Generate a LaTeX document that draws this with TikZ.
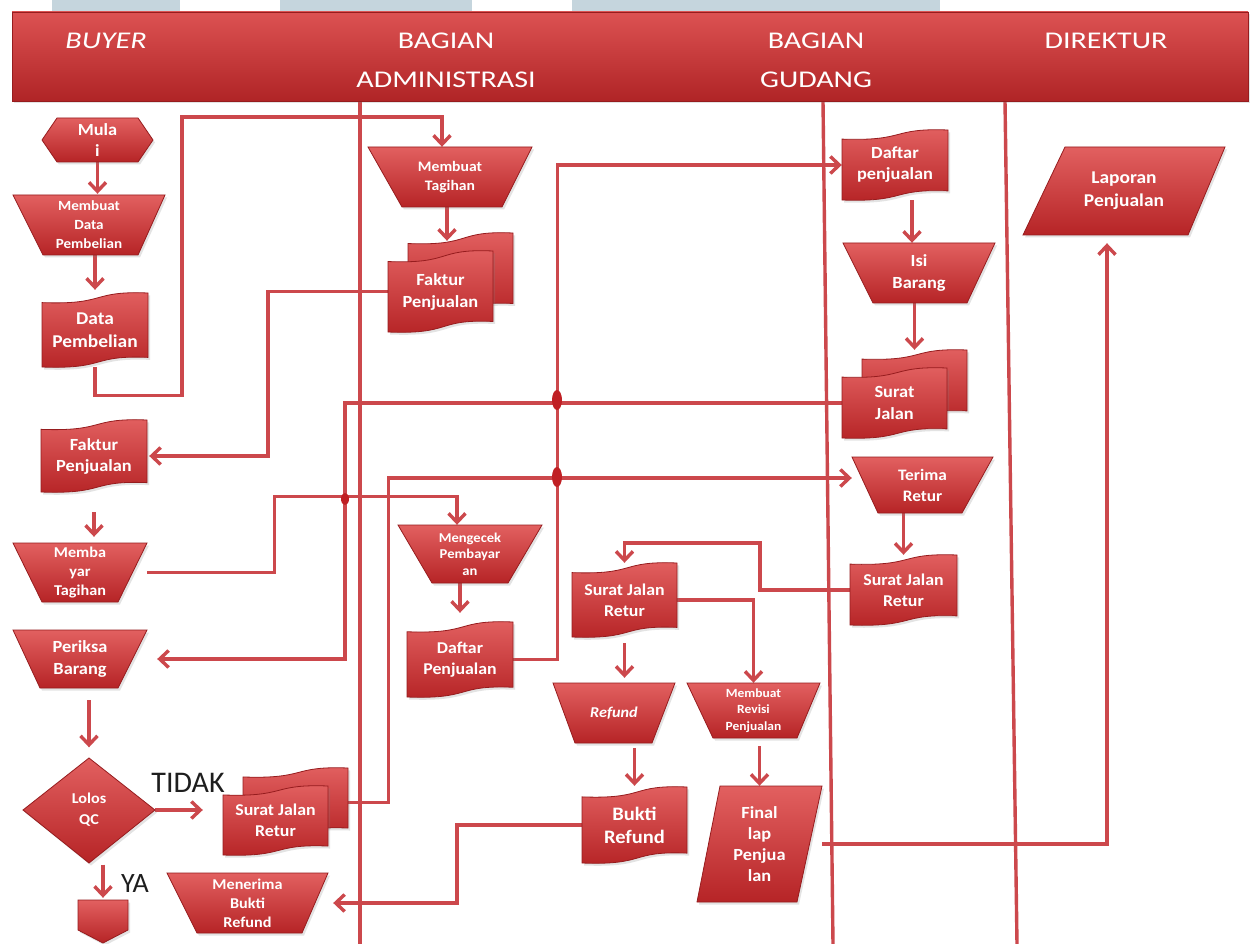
\documentclass[tikz,border=0pt]{standalone}
\usepackage{fontspec}
\newfontfamily\boxfont{Carlito}[FakeStretch=1.08]
\newfontfamily\headfont{Carlito}[FakeStretch=1.25]
\newfontfamily\plainfont{Carlito}
\usetikzlibrary{arrows.meta,shadows,calc}
\pgfdeclarelayer{bg}
\pgfdeclarelayer{back}
\pgfsetlayers{bg,back,main}

\definecolor{shTop}{RGB}{226,96,96}
\definecolor{shBot}{RGB}{182,36,38}
\definecolor{shEdge}{RGB}{150,28,30}
\definecolor{lineRed}{RGB}{204,72,76}
\definecolor{hdTop}{RGB}{220,82,82}
\definecolor{hdBot}{RGB}{176,36,38}
\definecolor{stripBlue}{RGB}{197,213,221}
\definecolor{dotRed}{RGB}{192,32,36}
\definecolor{labelInk}{RGB}{30,30,30}

\newcommand\fs[2]{\fontsize{#1}{#2}\selectfont}

% document symbol with wavy top and bottom edges
% #1 name, #2 left, #3 top, #4 right, #5 bottom, #6 font size, #7 text
\newcommand\docshape[7]{%
  \pgfmathsetmacro\dsL{#2}\pgfmathsetmacro\dsT{#3}%
  \pgfmathsetmacro\dsR{#4}\pgfmathsetmacro\dsB{#5}%
  \pgfmathsetmacro\dd{0.13*(\dsB-\dsT)}%
  \pgfmathsetmacro\mx{(\dsL+\dsR)/2}%
  \pgfmathsetmacro\ma{\dsL+0.62*(\dsR-\dsL)}%
  \pgfmathsetmacro\mb{\dsL+0.45*(\dsR-\dsL)}%
  \pgfmathsetmacro\my{(\dsT+\dsB)/2}%
  \path[shp] (\dsL,\dsT+\dd) .. controls (\ma,\dsT+1.25*\dd) and (\mb,\dsT-0.25*\dd) .. (\dsR,\dsT)
     -- (\dsR,\dsB-\dd) .. controls (\mb,\dsB-1.25*\dd) and (\ma,\dsB+0.25*\dd) .. (\dsL,\dsB) -- cycle;
  \node[txt, minimum width={(\dsR-\dsL)*1pt}, minimum height={(\dsB-\dsT)*1pt},
        font={\boxfont\bfseries #6}] (#1) at (\mx,\my) {#7};
}

% stacked documents: a back sheet and a front sheet
\newcommand\multidoc[7]{%
  \pgfmathsetmacro\mdL{#2+20}\pgfmathsetmacro\mdB{#5-18}%
  \docshape{#1b}{\mdL}{#3}{#4}{\mdB}{}{}%
  \pgfmathsetmacro\mdT{#3+18}\pgfmathsetmacro\mdR{#4-20}%
  \docshape{#1}{#2}{\mdT}{\mdR}{#5}{#6}{#7}%
}

% four-sided symbol (manual operation, data)
% #1 name, #2 top-left x, #3 top-right x, #4 bottom-left x, #5 bottom-right x,
% #6 top y, #7 bottom y, #8 font size, #9 text
\newcommand\quadshape[9]{%
  \pgfmathsetmacro\qL{min(#2,#4)}\pgfmathsetmacro\qR{max(#3,#5)}%
  \path[shp] (#2,#6) -- (#3,#6) -- (#5,#7) -- (#4,#7) -- cycle;
  \node[txt, minimum width={(\qR-\qL)*1pt}, minimum height={(#7-#6)*1pt},
        font={\boxfont\bfseries #8}] (#1) at ({(\qL+\qR)/2},{(#6+#7)/2}) {#9};
}

\begin{document}
\begin{tikzpicture}[x=1pt,y=-1pt,
  shp/.style={top color=shTop,bottom color=shBot,draw=shEdge,line width=0.8pt,
    drop shadow={opacity=0.22,shadow xshift=2pt,shadow yshift=-2.5pt}},
  txt/.style={text=white,align=center,inner sep=0pt,draw=none},
  conn/.style={draw=lineRed,line width=3.4pt},
  arr/.style={conn,-{Straight Barb[length=9pt,width=17pt]}},
  lane/.style={draw=lineRed,line width=3.4pt},
  hdr/.style={text=white,align=center,inner sep=0pt,font={\headfont\fs{24}{39}}},
  lbl/.style={text=labelInk,inner sep=0pt}]

\useasboundingbox (0,0) rectangle (1254,944);
\begin{pgfonlayer}{bg}
  \fill[white] (0,0) rectangle (1254,944);
  % pale strips along the top edge
  \fill[stripBlue] (52,0) rectangle (180,14);
  \fill[stripBlue] (280,0) rectangle (472,14);
  \fill[stripBlue] (572,0) rectangle (940,14);
\end{pgfonlayer}

% header band with lane titles
\path[draw=shEdge,line width=0.8pt,top color=hdTop,bottom color=hdBot,
  drop shadow={opacity=0.22,shadow xshift=2pt,shadow yshift=-2.5pt}]
  (12,12) rectangle (1248,101);
\node[hdr] (hbuyer) at (106,41) {\itshape BUYER};
\node[hdr] (hadmin) at (446,60) {BAGIAN\\ADMINISTRASI};
\node[hdr] (hgudang) at (816,60) {BAGIAN\\GUDANG};
\node[hdr] (hdir) at (1106,41) {DIREKTUR};

% ---------- Buyer ----------
\path[shp] (42,140) -- (57,118) -- (138,118) -- (153,140) -- (138,162) -- (57,162) -- cycle;
\node[txt, minimum width=111pt, minimum height=44pt, font={\boxfont\bfseries\fs{17}{21}}]
  (mulai) at (97.5,140) {Mula\\i};
\quadshape{mdp}{13}{165}{43}{138}{195}{255}{\fs{14}{19}}{Membuat\\Data\\Pembelian}
\docshape{dp}{42}{293}{148}{367}{\fs{18}{23}}{Data\\Pembelian}
\docshape{fpb}{41}{420}{147}{492}{\fs{17}{21}}{Faktur\\Penjualan}
\quadshape{mbt}{13}{147}{42}{118}{543}{602}{\fs{15}{19}}{Memba\\yar\\Tagihan}
\quadshape{pb}{13}{147}{40}{118}{630}{688}{\fs{17}{22}}{Periksa\\Barang}
\path[shp] (23,810) -- (89,758) -- (155,810) -- (89,863) -- cycle;
\node[txt, minimum width=132pt, minimum height=105pt, font={\boxfont\bfseries\fs{15}{21}}]
  (qc) at (89,810) {Lolos\\QC};
\multidoc{sjr1}{223}{768}{348}{855}{\fs{16.5}{21}}{Surat Jalan\\Retur}
\path[shp] (78,900) -- (128,900) -- (128,930) -- (103,943) -- (78,930) -- cycle;
\node[txt, minimum width=50pt, minimum height=40pt] (offp) at (103,920) {};
\quadshape{mbr}{167}{328}{197}{302}{873}{933}{\fs{15}{19}}{Menerima\\Bukti\\Refund}
\node[lbl, font={\plainfont\fs{30}{30}}] (tidak) at (188,783) {TIDAK};
\node[lbl, font={\plainfont\fs{28}{28}}] (ya) at (135,884) {YA};

% ---------- Bagian Administrasi ----------
\quadshape{mt}{368}{532}{402}{502}{147}{207}{\fs{14.5}{19}}{Membuat\\Tagihan}
\multidoc{fa}{388}{233}{513}{332}{\fs{17}{22}}{Faktur\\Penjualan}
\quadshape{mm}{398}{542}{432}{508}{525}{583}{\fs{13.5}{16.5}}{Mengecek\\Pembayar\\an}
\docshape{dpa}{407}{622}{513}{697}{\fs{16.5}{21}}{Daftar\\Penjualan}

% ---------- returns and refunds ----------
\docshape{sjr2}{572}{563}{677}{637}{\fs{16.5}{21}}{Surat Jalan\\Retur}
\quadshape{rf}{553}{675}{575}{652}{683}{743}{\fs{15}{19}\itshape}{Refund}
\quadshape{mrp}{687}{820}{713}{797}{683}{738}{\fs{12.5}{16.5}}{Membuat\\Revisi\\Penjualan}
\docshape{br}{582}{787}{687}{863}{\fs{19}{23}}{Bukti\\Refund}
\quadshape{flp}{720}{822}{697}{797}{786}{902}{\fs{17}{21}}{Final\\lap\\Penjua\\lan}

% ---------- Bagian Gudang ----------
\docshape{dpg}{842}{130}{948}{200}{\fs{17}{21}}{Daftar\\penjualan}
\quadshape{isi}{843}{995}{873}{967}{243}{303}{\fs{17}{22}}{Isi\\Barang}
\multidoc{sj}{842}{350}{967}{438}{\fs{17}{22}}{Surat\\Jalan}
\quadshape{tr}{852}{993}{878}{962}{457}{513}{\fs{16}{21}}{Terima\\Retur}
\docshape{sjr3}{850}{555}{957}{625}{\fs{16.5}{21}}{Surat Jalan\\Retur}

% ---------- Direktur ----------
\quadshape{lp}{1065}{1225}{1023}{1188}{147}{235}{\fs{18}{23}}{Laporan\\Penjualan}

% helper points on node borders
\coordinate (mtOut) at ([xshift=-3pt]mt.south);
\coordinate (isiIn) at ([xshift=-7pt]isi.north);

\begin{pgfonlayer}{back}
  % lane separators
  \draw[lane] (360,101) -- (360,944);
  \draw[lane] (823,101) -- (833,944);
  \draw[lane] (1005,101) -- (1017,944);

  % buyer flow
  \draw[arr, shorten >=1pt] (mulai.south) -- (mulai.south |- mdp.north);
  \draw[arr, shorten >=3pt] (dp.north |- mdp.south) -- (dp.north);
  \draw[arr] (dp.south) -- ++(0,28) -| (182,117) -| ([xshift=-8pt]mt.north);
  \draw[arr, shorten >=10pt] (mtOut) -- (mtOut |- fa.north);
  \draw[arr, shorten >=2pt] (fa.west) -- ++(-120,0) |- (fpb.east);
  \draw[arr, shorten <=20pt, shorten >=6pt] (fpb.south) -- (fpb.south |- mbt.north);
  \draw[arr] (mbt.east) -- ++(127,0) -- ++(0,-76) -| ([xshift=-13pt]mm.north);
  \draw[arr, shorten >=9pt] (dpa.north |- mm.south) -- (dpa.north);
  \draw[arr] (dpa.east) -- ++(44,0) |- (dpg.west);
  \draw[arr, shorten >=10pt] (sj.west) -- ++(-497,0) |- (pb.east);
  \draw[arr, shorten <=12pt, shorten >=10pt] (qc.north |- pb.south) -- (qc.north);
  \draw[arr, shorten >=20pt] (qc.east) -- (qc.east -| sjr1.west);
  \draw[arr, shorten <=2pt, shorten >=2pt] (offp.north |- qc.south) -- (offp.north);
  \draw[arr] (sjr1b.east) -- ++(40,0) |- ([yshift=7pt]tr.west);

  % warehouse flow
  \draw[arr] (isiIn |- dpg.south) -- (isiIn);
  \draw[arr] (sjb.north |- isi.south) -- (sjb.north);
  \draw[arr] (tr.south -| sjr3.north) -- (sjr3.north);
  \draw[arr] (sjr3.west) -| (760,543) -| (sjr2.north);

  % returns, refund and report
  \draw[arr] (sjr2.east) -| (mrp.north);
  \draw[arr, shorten <=6pt, shorten >=5pt] (sjr2.south) -- (sjr2.south |- rf.north);
  \draw[arr, shorten <=5pt, shorten >=1pt] (br.north |- rf.south) -- (br.north);
  \draw[arr, shorten <=8pt] (flp.north |- mrp.south) -- (flp.north);
  \draw[arr, shorten >=5pt] (br.west) -- ++(-125,0) |- (mbr.east);
  \draw[arr, shorten >=8pt] (flp.east) -| ([xshift=-17pt]lp.south);

  % crossing marks
  \fill[dotRed] (557,400) ellipse [x radius=5pt, y radius=10pt];
  \fill[dotRed] (557,477) ellipse [x radius=5pt, y radius=10pt];
  \fill[dotRed] (345,499) ellipse [x radius=4pt, y radius=6pt];
\end{pgfonlayer}
\end{tikzpicture}
\end{document}
